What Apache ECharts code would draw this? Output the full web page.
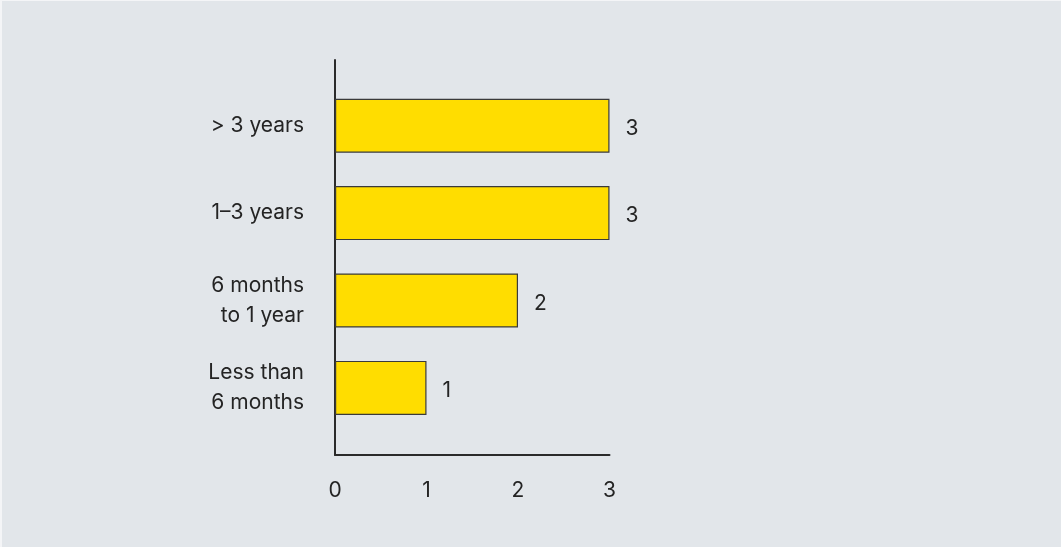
<!DOCTYPE html>
<html>
<head>
<meta charset="utf-8">
<script src="https://cdn.jsdelivr.net/npm/echarts@6/dist/echarts.min.js"></script>
<style>
  html, body { margin: 0; padding: 0; background: #f4f5f7; }
  #chart { position: absolute; left: 2px; top: 1px; width: 1059px; height: 546px; background: #e2e6ea; }
</style>
</head>
<body>
<div id="chart"></div>
<script>
// Time spent, bottom-to-top order for the category axis
const categories = ['Less than\n6 months', '6 months\nto 1 year', '1–3 years', '> 3 years'];
const values = [1, 2, 3, 3];
const xTicks = [0, 1, 2, 3];

const FONT = 'Inter';
const TEXT = '#242424';
const LINE = '#2b2b2b';

const chart = echarts.init(document.getElementById('chart'), null, { renderer: 'canvas' });

const left = 333;
const right = 1059 - 333 - 274.5;

chart.setOption({
  animation: false,
  textStyle: { fontFamily: FONT },
  grid: [
    // bars
    { left: left, right: right, top: 81, bottom: 115.4 },
    // frame: axis lines and tick labels
    { left: left, right: right, top: 59, bottom: 92 }
  ],
  xAxis: [
    { gridIndex: 0, type: 'value', min: xTicks[0], max: xTicks[xTicks.length - 1], interval: 1, show: false },
    {
      gridIndex: 1, type: 'value', min: xTicks[0], max: xTicks[xTicks.length - 1], interval: 1,
      axisLine: { show: true, lineStyle: { color: LINE, width: 2 } },
      axisTick: { show: false },
      splitLine: { show: false },
      axisLabel: { color: TEXT, fontSize: 21, fontFamily: FONT, margin: 25 }
    }
  ],
  yAxis: [
    {
      gridIndex: 0, type: 'category', data: categories,
      axisLine: { show: false }, axisTick: { show: false },
      axisLabel: {
        color: TEXT, fontSize: 21, fontFamily: FONT, lineHeight: 30,
        margin: 31, align: 'right', padding: [8, 0, 0, 0]
      }
    },
    {
      gridIndex: 1, type: 'value', min: 0, max: 1,
      axisLine: { show: true, lineStyle: { color: LINE, width: 2 } },
      axisTick: { show: false }, axisLabel: { show: false }, splitLine: { show: false }
    }
  ],
  series: [{
    type: 'bar',
    xAxisIndex: 0,
    yAxisIndex: 0,
    data: values,
    barWidth: 54,
    itemStyle: { color: '#ffdd00', borderColor: '#3a3a3a', borderWidth: 1.2 },
    label: {
      show: true, position: 'right', distance: 16, offset: [0, 3],
      color: TEXT, fontSize: 21, fontFamily: FONT
    }
  }]
});
</script>
</body>
</html>
